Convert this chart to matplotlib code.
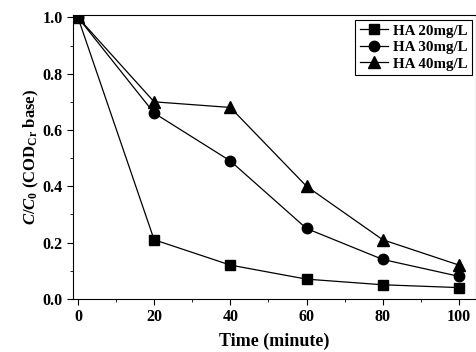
import matplotlib
matplotlib.use("Agg")
import matplotlib.pyplot as plt
from matplotlib.ticker import MultipleLocator

plt.rcParams['font.family'] = 'Liberation Serif'
plt.rcParams['font.weight'] = 'bold'
plt.rcParams['mathtext.fontset'] = 'custom'
plt.rcParams['mathtext.rm'] = 'Liberation Serif:bold'
plt.rcParams['mathtext.it'] = 'Liberation Serif:italic:bold'
plt.rcParams['mathtext.bf'] = 'Liberation Serif:bold'

time = [0, 20, 40, 60, 80, 100]
ha20 = [1.0, 0.21, 0.12, 0.07, 0.05, 0.04]
ha30 = [1.0, 0.66, 0.49, 0.25, 0.14, 0.08]
ha40 = [1.0, 0.70, 0.68, 0.40, 0.21, 0.12]
labels = ["HA 20mg/L", "HA 30mg/L", "HA 40mg/L"]

fig = plt.figure(figsize=(4.77, 3.52), dpi=100)
ax = fig.add_axes([0.153, 0.151, 0.845, 0.806])

ax.plot(time, ha20, color='black', lw=0.9, marker='s', ms=7, label=labels[0])
ax.plot(time, ha30, color='black', lw=0.9, marker='o', ms=7.5, label=labels[1])
ax.plot(time, ha40, color='black', lw=0.9, marker='^', ms=8, label=labels[2])

ax.set_xlim(-1.3, 104.5)
ax.set_ylim(0, 1.008)
ax.xaxis.set_major_locator(MultipleLocator(20))
ax.xaxis.set_minor_locator(MultipleLocator(10))
ax.yaxis.set_major_locator(MultipleLocator(0.2))
ax.yaxis.set_minor_locator(MultipleLocator(0.1))
ax.yaxis.set_major_formatter(plt.FormatStrFormatter('%.1f'))
ax.tick_params(which='both', direction='out', labelsize=11.5)
ax.tick_params(which='major', length=4)
ax.tick_params(which='minor', length=2.5)

ax.set_xlabel("Time (minute)", fontsize=13, fontweight='bold', labelpad=5)
ax.set_ylabel(r"$\mathit{C/C}_{\mathit{0}}$ (COD$_{\mathrm{Cr}}$ base)", fontsize=12,
              fontweight='bold', labelpad=1)

leg = ax.legend(loc='upper right', fontsize=10.8, fancybox=False, edgecolor='black',
                handlelength=1.9, handletextpad=0.3, borderpad=0.3, labelspacing=0.2,
                framealpha=1, borderaxespad=0.3)
leg.get_frame().set_linewidth(0.8)

fig.savefig("out.png", dpi=100)
